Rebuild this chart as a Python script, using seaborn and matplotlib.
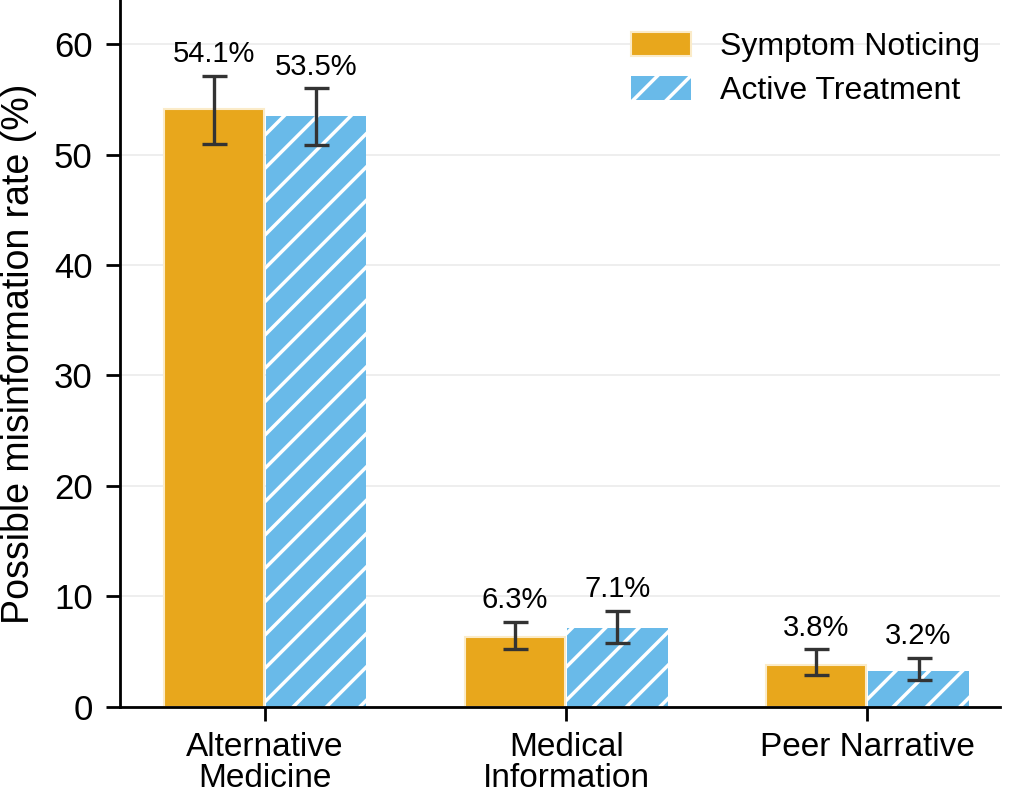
import numpy as np
import pandas as pd
from matplotlib import pyplot as plt
import seaborn as sns

categories = ['Alternative\nMedicine', 'Medical\nInformation', 'Peer Narrative']
groups = ['Symptom Noticing', 'Active Treatment']
symptom_vals = [54.1, 6.3, 3.8]
active_vals = [53.5, 7.1, 3.2]
symptom_lo = [51.0, 5.2, 2.9]
symptom_hi = [57.1, 7.7, 5.2]
active_lo = [50.9, 5.8, 2.4]
active_hi = [56.0, 8.7, 4.4]

orangeCol = '#E8A71C'
blueCol = '#69BAE9'

sns.set_style('white')
plt.rcParams['font.family'] = ['Liberation Sans', 'DejaVu Sans']
plt.rcParams['text.color'] = 'black'
plt.rcParams['axes.labelcolor'] = 'black'
plt.rcParams['xtick.color'] = 'black'
plt.rcParams['ytick.color'] = 'black'
plt.rcParams['hatch.color'] = 'white'
plt.rcParams['hatch.linewidth'] = 2.5

df = pd.DataFrame({
    'category': categories * 2,
    'group': [groups[0]] * 3 + [groups[1]] * 3,
    'rate': symptom_vals + active_vals,
})

fig = plt.figure(figsize=(10.12, 7.95), dpi=100)
ax = fig.add_axes([0.119, 0.111, 0.869, 0.889])

sns.barplot(
    data=df, x='category', y='rate', hue='group',
    palette=[orangeCol, blueCol], saturation=1, width=0.68, gap=0.02,
    errorbar=None, ax=ax, zorder=2,
)

los = [symptom_lo, active_lo]
his = [symptom_hi, active_hi]
vals = [symptom_vals, active_vals]
bar_containers = list(ax.containers)
for gi, container in enumerate(bar_containers):
    for bi, bar in enumerate(container.patches):
        if gi == 1:
            bar.set_hatch('/')
            bar.set_edgecolor('white')
            bar.set_linewidth(0)
        else:
            bar.set_edgecolor('#FBEBC8')
            bar.set_linewidth(1.5)
        xc = bar.get_x() + bar.get_width() / 2
        v = vals[gi][bi]
        ax.errorbar(xc, v, yerr=[[v - los[gi][bi]], [his[gi][bi] - v]],
                    fmt='none', ecolor='#333333', elinewidth=2.4,
                    capsize=9, capthick=2.4, zorder=3)
        ax.text(xc, his[gi][bi] + 0.7, f'{v:.1f}%', ha='center', va='bottom',
                fontsize=21)

ax.set_ylim(0, 64)
ax.set_xlim(-0.48, 2.44)
ax.set_yticks(range(0, 61, 10))
ax.yaxis.grid(True, color='#EBEBEB', linewidth=1.2, zorder=0)
ax.set_axisbelow(True)
ax.set_xlabel('')
ax.set_ylabel('Possible misinformation rate (%)', fontsize=27, labelpad=12)
ax.tick_params(axis='both', direction='out', length=10, width=2,
               bottom=True, left=True)
ax.tick_params(axis='x', pad=8, labelsize=24)
ax.tick_params(axis='y', pad=10, labelsize=25)
for lbl in ax.get_xticklabels():
    lbl.set_linespacing(1.0)
for s in ['top', 'right']:
    ax.spines[s].set_visible(False)
for s in ['left', 'bottom']:
    ax.spines[s].set_linewidth(2)
    ax.spines[s].set_color('black')

leg = ax.legend(loc='upper right', bbox_to_anchor=(1.014, 1), frameon=False,
                fontsize=23, handlelength=1.9, handleheight=0.75,
                handletextpad=0.9, borderaxespad=0.6, labelspacing=0.45)
leg.legend_handles[0].set_edgecolor('#FBEBC8')
leg.legend_handles[0].set_linewidth(1.5)
leg.legend_handles[1].set_hatch('/')
leg.legend_handles[1].set_edgecolor('white')
leg.legend_handles[1].set_linewidth(0)

plt.savefig('out.png', dpi=100)
plt.close()
